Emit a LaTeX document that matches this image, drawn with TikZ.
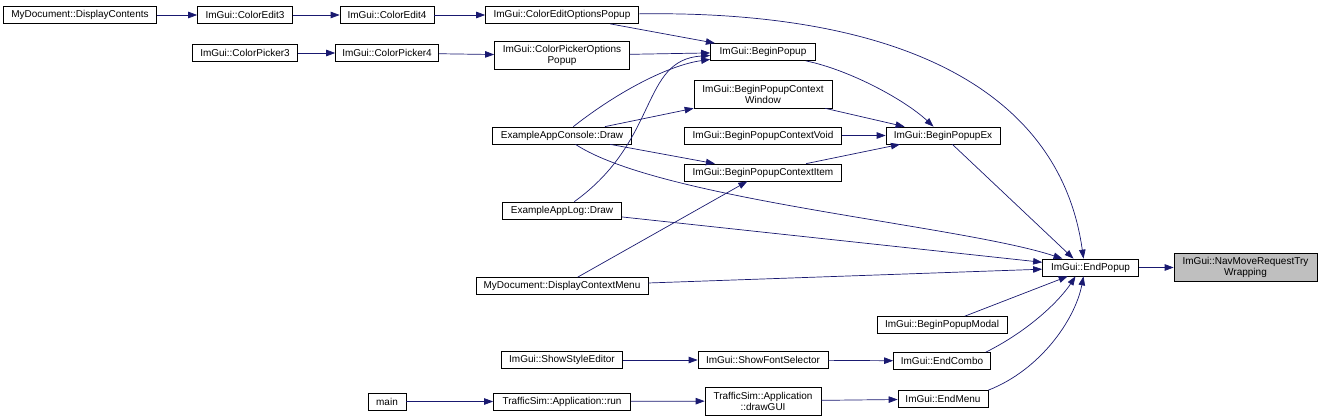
\documentclass[tikz,border=0pt]{standalone}
\usepackage{fontspec}
\setmainfont{Liberation Sans}
\usetikzlibrary{arrows.meta}
\begin{document}
\begin{tikzpicture}[x=1pt,y=-1pt,
    fn/.style={draw=black,fill=white,line width=0.7pt,inner xsep=2pt,inner ysep=1pt,
               font=\fontsize{10}{11}\selectfont,align=center,anchor=center},
    call/.style={draw=edgeblue,line width=0.7pt,-{Triangle[length=9pt,width=6.5pt]}}]
  \definecolor{edgeblue}{HTML}{191970}
  \colorlet{selgray}{black!25}
  \useasboundingbox (0,0) rectangle (1320,420);
  \foreach \n/\x/\y/\w/\h/\txt in {
      dcont/80/15/153/17/{MyDocument::DisplayContents},
      ce3/245/15/95/17/{ImGui::ColorEdit3},
      ce4/387/15/94/17/{ImGui::ColorEdit4},
      ceop/562/15/153/17/{ImGui::ColorEditOptionsPopup},
      bp/763/52/105/17/{ImGui::BeginPopup},
      cp3/245/53/105/17/{ImGui::ColorPicker3},
      cp4/387/53/103/17/{ImGui::ColorPicker4},
      cpop/562/55.5/135/28/{ImGui::ColorPickerOptions\\Popup},
      bpcw/763/94/138/28/{ImGui::BeginPopupContext\\Window},
      bpcv/763/135.5/157/17/{ImGui::BeginPopupContextVoid},
      bpex/943/135.5/114/17/{ImGui::BeginPopupEx},
      acons/562/135.5/139/17/{ExampleAppConsole::Draw},
      bpci/763/172.5/157/17/{ImGui::BeginPopupContextItem},
      alog/562/210.5/119/17/{ExampleAppLog::Draw},
      endp/1090.5/267.5/96/17/{ImGui::EndPopup},
      dmenu/562/286/172/17/{MyDocument::DisplayContextMenu},
      bpm/942/325/130/17/{ImGui::BeginPopupModal},
      sse/562/360/121/17/{ImGui::ShowStyleEditor},
      sfs/763/360/130/17/{ImGui::ShowFontSelector},
      endc/942/361/97/17/{ImGui::EndCombo},
      main/387/401.5/38/17/{main},
      run/562/401.5/137/17/{TrafficSim::Application::run},
      gui/763/401/116/28/{TrafficSim::Application\\::drawGUI},
      endm/943/399/90/17/{ImGui::EndMenu}}{
    \node[fn,minimum width=\w pt,minimum height=\h pt] (\n) at (\x,\y) {\txt};
  }
  \node[fn,fill=selgray,minimum width=143pt,minimum height=28pt] (nav) at (1245.5,267.5)
    {ImGui::NavMoveRequestTry\\Wrapping};
  \foreach \a/\b in {dcont/ce3,ce3/ce4,ce4/ceop,cp3/cp4,cp4/cpop,cpop/bp,ceop/bp,
      acons/bpcw,acons/bpci,alog/endp,dmenu/endp,dmenu/bpci,bpcw/bpex,bpcv/bpex,
      bpci/bpex,endp/nav,bpm/endp,sse/sfs,sfs/endc,main/run,run/gui,gui/endm}
    \draw[call] (\a) -- (\b);
  \draw[call] (bpex) -- ([xshift=-17pt]endp.north);
  % aristas curvas, a mano
  \draw[call] (ceop) .. controls (900,10) and (1060,90) .. ([xshift=-7pt]endp.north);
  \draw[call] (acons) .. controls (660,200) and (960,225) .. ([xshift=-28pt]endp.north);
  \draw[call] (acons) .. controls (620,90) and (670,65) .. (bp);
  \draw[call] (alog) .. controls (660,140) and (640,60) .. (bp);
  \draw[call] (bp) .. controls (850,70) and (905,100) .. (bpex);
  \draw[call] ([xshift=-5pt]endc.north east) .. controls (1030,330) and (1060,300)
    .. ([xshift=-15pt]endp.south);
  \draw[call] (endm.north east) .. controls (1040,370) and (1075,320)
    .. ([xshift=-7pt]endp.south);
\end{tikzpicture}
\end{document}
